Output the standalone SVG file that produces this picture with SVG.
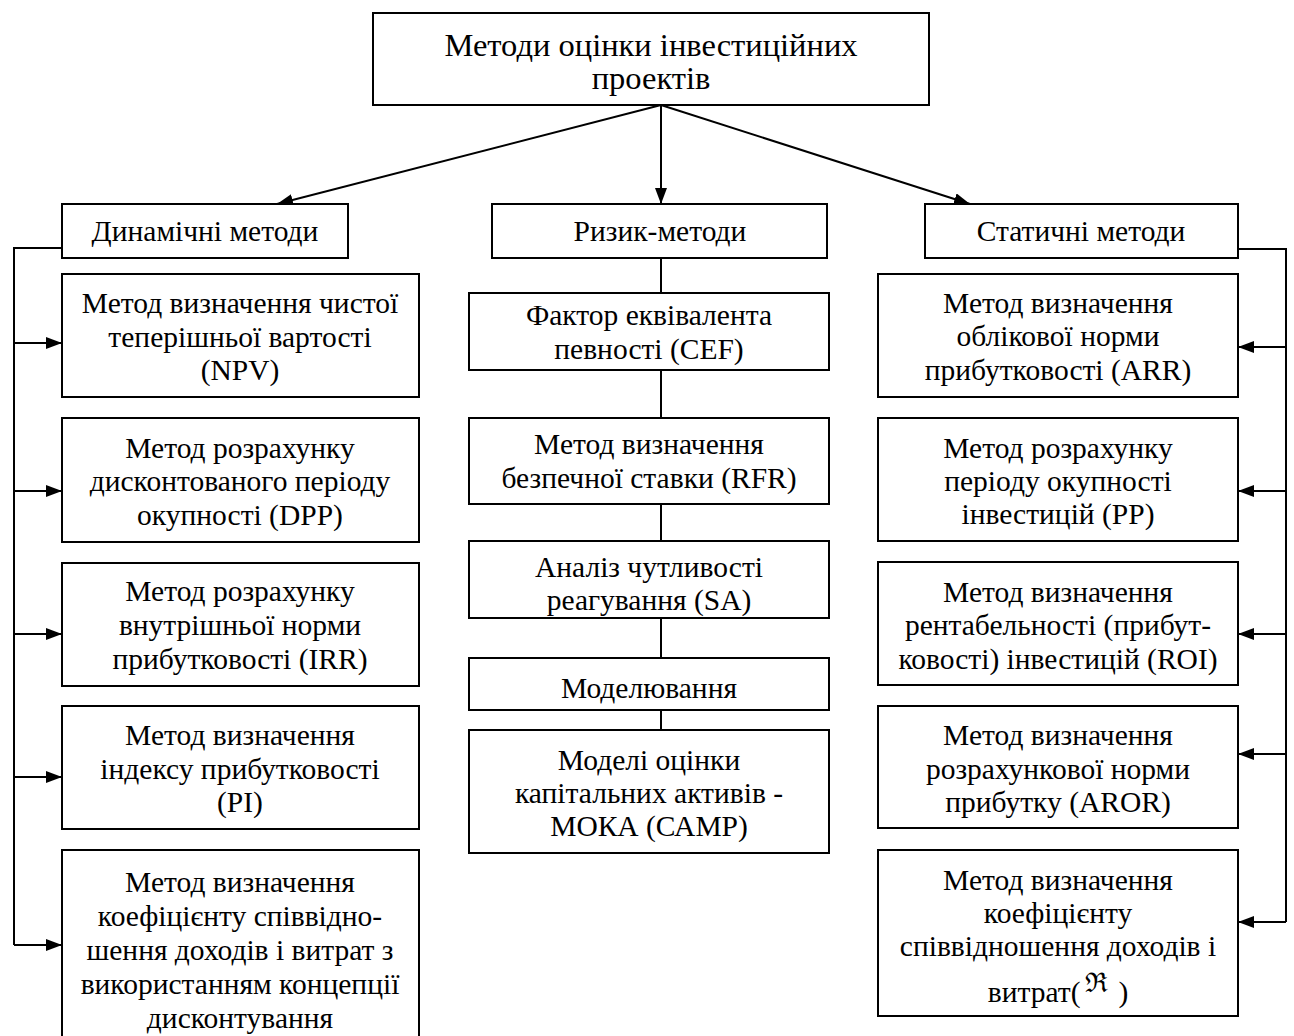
<svg xmlns="http://www.w3.org/2000/svg" width="1294" height="1036" viewBox="0 0 1294 1036">
<style>
.box{fill:#fff;stroke:#000;stroke-width:2}
.t{font-family:'Liberation Serif','Times New Roman',serif;font-size:29.5px;fill:#000;text-anchor:middle;dominant-baseline:central}
.title{font-size:32.5px}
.sym{font-family:'DejaVu Serif',serif;font-size:27px}
.ln{stroke:#000;stroke-width:2;fill:none}
</style>
<defs>
<marker id="ah" markerWidth="16" markerHeight="12" refX="16" refY="6" orient="auto" markerUnits="userSpaceOnUse">
<path d="M0,0 L16,6 L0,12 Z" fill="#000"/>
</marker>
</defs>
<rect width="1294" height="1036" fill="#fff"/>
<g id="connectors">
<line class="ln" x1="661" y1="105" x2="277" y2="204" marker-end="url(#ah)"/>
<line class="ln" x1="661" y1="105" x2="661" y2="204" marker-end="url(#ah)"/>
<line class="ln" x1="661" y1="105" x2="970" y2="204" marker-end="url(#ah)"/>
<polyline class="ln" points="62,248 14,248 14,945"/>
<line class="ln" x1="14" y1="343" x2="62" y2="343" marker-end="url(#ah)"/>
<line class="ln" x1="14" y1="491" x2="62" y2="491" marker-end="url(#ah)"/>
<line class="ln" x1="14" y1="634" x2="62" y2="634" marker-end="url(#ah)"/>
<line class="ln" x1="14" y1="777" x2="62" y2="777" marker-end="url(#ah)"/>
<line class="ln" x1="14" y1="945" x2="62" y2="945" marker-end="url(#ah)"/>
<line class="ln" x1="661" y1="258" x2="661" y2="730"/>
<polyline class="ln" points="1238,249 1286,249 1286,922"/>
<line class="ln" x1="1286" y1="347" x2="1238" y2="347" marker-end="url(#ah)"/>
<line class="ln" x1="1286" y1="491" x2="1238" y2="491" marker-end="url(#ah)"/>
<line class="ln" x1="1286" y1="634" x2="1238" y2="634" marker-end="url(#ah)"/>
<line class="ln" x1="1286" y1="754" x2="1238" y2="754" marker-end="url(#ah)"/>
<line class="ln" x1="1286" y1="922" x2="1238" y2="922" marker-end="url(#ah)"/>
</g>
<g id="root">
<rect class="box" x="373" y="13" width="556" height="92"/>
<text class="t title" x="651" y="45">Методи оцінки інвестиційних</text>
<text class="t title" x="651" y="78">проектів</text>
</g>
<g id="dyn">
<rect class="box" x="62" y="204" width="286" height="54"/>
<text class="t" x="205" y="231">Динамічні методи</text>
</g>
<g id="risk">
<rect class="box" x="492" y="204" width="335" height="54"/>
<text class="t" x="660" y="231">Ризик-методи</text>
</g>
<g id="stat">
<rect class="box" x="925" y="204" width="313" height="54"/>
<text class="t" x="1081" y="231">Статичні методи</text>
</g>
<g id="npv">
<rect class="box" x="62" y="274" width="357" height="123"/>
<text class="t" x="240" y="303">Метод визначення чистої</text>
<text class="t" x="240" y="337">теперішньої вартості</text>
<text class="t" x="240" y="370">(NPV)</text>
</g>
<g id="dpp">
<rect class="box" x="62" y="418" width="357" height="124"/>
<text class="t" x="240" y="448">Метод розрахунку</text>
<text class="t" x="240" y="481">дисконтованого періоду</text>
<text class="t" x="240" y="515">окупності (DPP)</text>
</g>
<g id="irr">
<rect class="box" x="62" y="563" width="357" height="123"/>
<text class="t" x="240" y="591">Метод розрахунку</text>
<text class="t" x="240" y="625">внутрішньої норми</text>
<text class="t" x="240" y="659">прибутковості (IRR)</text>
</g>
<g id="pi">
<rect class="box" x="62" y="706" width="357" height="123"/>
<text class="t" x="240" y="735">Метод визначення</text>
<text class="t" x="240" y="769">індексу прибутковості</text>
<text class="t" x="240" y="802">(PI)</text>
</g>
<g id="bcr-dyn">
<rect class="box" x="62" y="850" width="357" height="196"/>
<text class="t" x="240" y="882">Метод визначення</text>
<text class="t" x="240" y="916">коефіцієнту співвідно-</text>
<text class="t" x="240" y="950">шення доходів і витрат з</text>
<text class="t" x="240" y="984">використанням концепції</text>
<text class="t" x="240" y="1018">дисконтування</text>
</g>
<g id="cef">
<rect class="box" x="469" y="293" width="360" height="77"/>
<text class="t" x="649" y="315">Фактор еквівалента</text>
<text class="t" x="649" y="349">певності (CEF)</text>
</g>
<g id="rfr">
<rect class="box" x="469" y="418" width="360" height="86"/>
<text class="t" x="649" y="444">Метод визначення</text>
<text class="t" x="649" y="478">безпечної ставки (RFR)</text>
</g>
<g id="sa">
<rect class="box" x="469" y="541" width="360" height="77"/>
<text class="t" x="649" y="567">Аналіз чутливості</text>
<text class="t" x="649" y="600">реагування (SA)</text>
</g>
<g id="model">
<rect class="box" x="469" y="658" width="360" height="52"/>
<text class="t" x="649" y="688">Моделювання</text>
</g>
<g id="camp">
<rect class="box" x="469" y="730" width="360" height="123"/>
<text class="t" x="649" y="760">Моделі оцінки</text>
<text class="t" x="649" y="793">капітальних активів -</text>
<text class="t" x="649" y="826">МОКА (САМР)</text>
</g>
<g id="arr">
<rect class="box" x="878" y="274" width="360" height="123"/>
<text class="t" x="1058" y="303">Метод визначення</text>
<text class="t" x="1058" y="336">облікової норми</text>
<text class="t" x="1058" y="370">прибутковості (ARR)</text>
</g>
<g id="pp">
<rect class="box" x="878" y="418" width="360" height="123"/>
<text class="t" x="1058" y="448">Метод розрахунку</text>
<text class="t" x="1058" y="481">періоду окупності</text>
<text class="t" x="1058" y="514">інвестицій (PP)</text>
</g>
<g id="roi">
<rect class="box" x="878" y="562" width="360" height="123"/>
<text class="t" x="1058" y="592">Метод визначення</text>
<text class="t" x="1058" y="625">рентабельності (прибут-</text>
<text class="t" x="1058" y="659">ковості) інвестицій (ROI)</text>
</g>
<g id="aror">
<rect class="box" x="878" y="706" width="360" height="122"/>
<text class="t" x="1058" y="735">Метод визначення</text>
<text class="t" x="1058" y="769">розрахункової норми</text>
<text class="t" x="1058" y="802">прибутку (AROR)</text>
</g>
<g id="bcr-stat">
<rect class="box" x="878" y="850" width="360" height="166"/>
<text class="t" x="1058" y="880">Метод визначення</text>
<text class="t" x="1058" y="913">коефіцієнту</text>
<text class="t" x="1058" y="946">співвідношення доходів і</text>
<text class="t" x="1058" y="992">витрат(<tspan class="sym" dx="5" dy="-10">ℜ</tspan><tspan dx="10" dy="10">)</tspan></text>
</g>
</svg>
